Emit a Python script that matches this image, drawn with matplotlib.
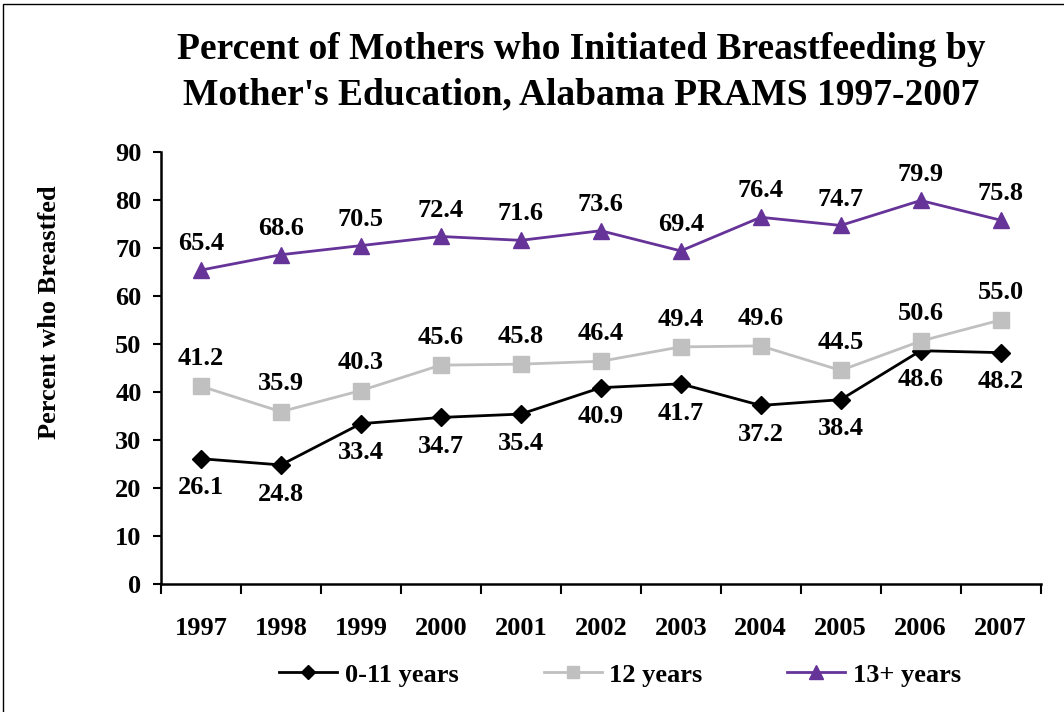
import matplotlib.pyplot as plt

# 연도별 교육수준에 따른 모유수유 시작 비율
years = ["1997", "1998", "1999", "2000", "2001", "2002", "2003", "2004", "2005", "2006", "2007"]
edu_0_11 = [26.1, 24.8, 33.4, 34.7, 35.4, 40.9, 41.7, 37.2, 38.4, 48.6, 48.2]
edu_12 = [41.2, 35.9, 40.3, 45.6, 45.8, 46.4, 49.4, 49.6, 44.5, 50.6, 55.0]
edu_13 = [65.4, 68.6, 70.5, 72.4, 71.6, 73.6, 69.4, 76.4, 74.7, 79.9, 75.8]

plt.rcParams['font.family'] = ['Liberation Serif', 'DejaVu Serif']
plt.rcParams['font.weight'] = 'bold'

fig = plt.figure(figsize=(10.64, 7.12), dpi=100)
ax = fig.add_axes([0.1513, 0.1798, 0.8267, 0.6067])

x = list(range(len(years)))
ax.plot(x, edu_0_11, color="black", marker="D", markersize=9, lw=2, label="0-11 years")
ax.plot(x, edu_12, color="#c0c0c0", marker="s", markersize=11, lw=2, label="12 years")
ax.plot(x, edu_13, color="#663399", marker="^", markersize=12, lw=2, label="13+ years")

# 값 라벨
for i in x:
    ax.annotate(f"{edu_0_11[i]:.1f}", (i, edu_0_11[i]), xytext=(0, -21), textcoords="offset points",
                ha="center", va="center", fontsize=19, fontweight="bold")
    ax.annotate(f"{edu_12[i]:.1f}", (i, edu_12[i]), xytext=(0, 20), textcoords="offset points",
                ha="center", va="center", fontsize=19, fontweight="bold")
    ax.annotate(f"{edu_13[i]:.1f}", (i, edu_13[i]), xytext=(0, 19), textcoords="offset points",
                ha="center", va="center", fontsize=19, fontweight="bold")

ax.set_xlim(-0.5, len(years) - 0.5)
ax.set_ylim(0, 90)
ax.set_yticks(range(0, 91, 10))
ax.set_xticks([i - 0.5 for i in range(len(years) + 1)], minor=False)
ax.set_xticklabels([""] * (len(years) + 1))
ax.set_xticks(x, minor=True)
ax.set_xticklabels(years, minor=True)
ax.tick_params(axis="x", which="major", length=7, width=1.5, direction="out")
ax.tick_params(axis="x", which="minor", length=0, pad=24, labelsize=19)
ax.tick_params(axis="y", length=6, width=1.5, direction="out", labelsize=19, pad=8)

for s in ["top", "right"]:
    ax.spines[s].set_visible(False)
for s in ["left", "bottom"]:
    ax.spines[s].set_linewidth(1.8)

ax.set_ylabel("Percent who Breastfed", fontsize=19, fontweight="bold")
ax.yaxis.set_label_coords(-0.114, 0.63)

fig.suptitle("Percent of Mothers who Initiated Breastfeeding by\nMother's Education, Alabama PRAMS 1997-2007",
             x=0.546, y=0.955, fontsize=27, fontweight="bold", linespacing=1.4)

fig.legend(loc="center", bbox_to_anchor=(0.583, 0.052), ncol=3, frameon=False,
           fontsize=19, handlelength=2.2, handletextpad=0.3, columnspacing=3.2, markerscale=0.8)

# 그림 테두리
fig.patches.append(plt.Rectangle((0.003, -0.01), 1.1, 1.005, transform=fig.transFigure,
                                 fill=False, edgecolor="black", lw=1))

plt.savefig("out.png", dpi=100)
